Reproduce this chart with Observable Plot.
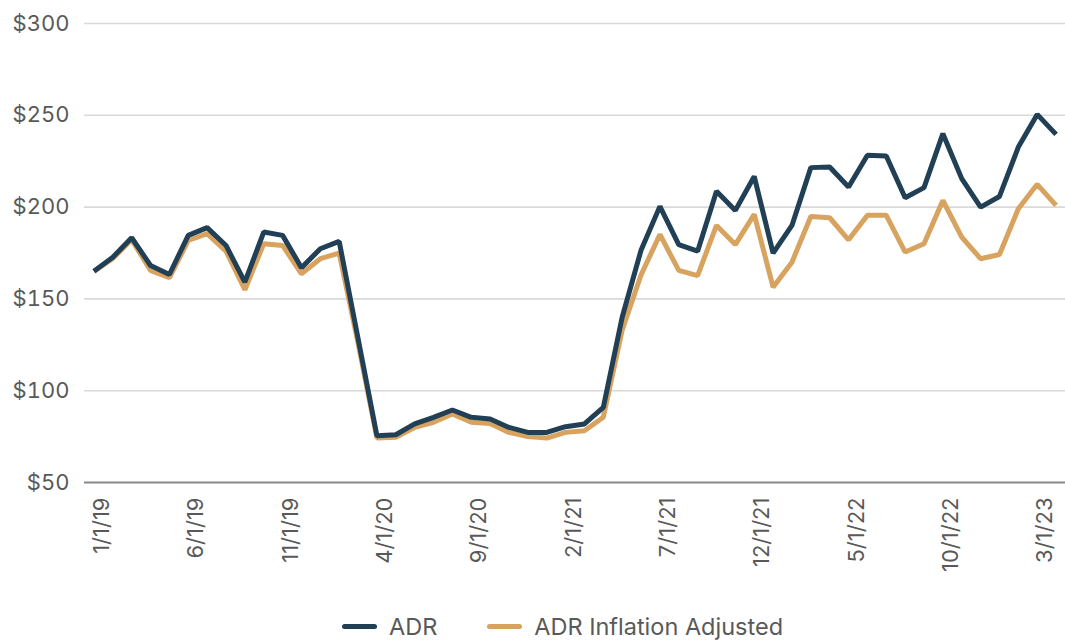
<!DOCTYPE html>
<html>
<head>
<meta charset="utf-8">
<script src="https://cdn.jsdelivr.net/npm/d3@7"></script>
<script src="https://cdn.jsdelivr.net/npm/@observablehq/plot@0.6"></script>
<style>
  html, body { margin: 0; padding: 0; background: #ffffff; }
  body { width: 1065px; height: 641px; overflow: hidden; font-family: Inter, "Noto Sans", sans-serif; }
  #chart svg { display: block; }
  #legend { display: flex; justify-content: center; align-items: center; gap: 50px; margin-top: 12px; font-size: 23.5px; color: #595959; margin-left: 60px; }
  .item { display: flex; align-items: center; gap: 12px; }
  .sw { width: 35px; height: 5px; border-radius: 3px; }
</style>
</head>
<body>
<div id="chart"></div>
<div id="legend"></div>
<script>
const months = [
  "1/1/19","2/1/19","3/1/19","4/1/19","5/1/19","6/1/19","7/1/19","8/1/19","9/1/19","10/1/19","11/1/19","12/1/19",
  "1/1/20","2/1/20","3/1/20","4/1/20","5/1/20","6/1/20","7/1/20","8/1/20","9/1/20","10/1/20","11/1/20","12/1/20",
  "1/1/21","2/1/21","3/1/21","4/1/21","5/1/21","6/1/21","7/1/21","8/1/21","9/1/21","10/1/21","11/1/21","12/1/21",
  "1/1/22","2/1/22","3/1/22","4/1/22","5/1/22","6/1/22","7/1/22","8/1/22","9/1/22","10/1/22","11/1/22","12/1/22",
  "1/1/23","2/1/23","3/1/23","4/1/23"
];
const adr = [
  165.1,172.7,183.3,168.2,163.3,184.6,188.8,179.1,159.1,186.4,184.6,167.0,
  177.3,181.3,128.5,75.5,76.0,81.9,85.5,89.5,85.5,84.6,80.0,77.3,
  77.3,80.4,81.9,90.9,140.0,176.5,200.4,179.6,176.0,208.7,198.2,216.7,
  174.9,190.0,221.5,221.8,210.9,228.2,227.8,205.1,210.6,240.0,215.5,200.0,
  205.8,232.7,250.5,239.6
];
const adrInflationAdjusted = [
  165.0,172.0,182.2,165.5,161.5,181.8,185.5,176.0,155.0,180.0,179.1,163.7,
  171.9,174.9,126.0,74.2,74.6,80.0,82.8,87.3,82.8,82.2,77.3,75.0,
  74.2,77.3,78.2,85.5,133.0,163.0,185.1,165.5,162.7,190.0,179.6,196.0,
  156.4,170.0,194.9,194.2,182.2,195.5,195.5,175.5,180.0,203.6,183.6,171.9,
  174.2,199.1,212.4,200.9
];
const seriesNames = ["ADR", "ADR Inflation Adjusted"];
const seriesColors = ["#213f55", "#d7a35f"];
const yTicks = [50, 100, 150, 200, 250, 300];
const xTickLabels = ["1/1/19","6/1/19","11/1/19","4/1/20","9/1/20","2/1/21","7/1/21","12/1/21","5/1/22","10/1/22","3/1/23"];

const rows = [];
months.forEach((m, i) => {
  rows.push({month: m, value: adr[i], series: seriesNames[0]});
  rows.push({month: m, value: adrInflationAdjusted[i], series: seriesNames[1]});
});

const chart = Plot.plot({
  width: 1065,
  height: 600,
  marginTop: 23,
  marginBottom: 118,
  marginLeft: 84,
  marginRight: 0,
  style: {fontFamily: "Inter, 'Noto Sans', sans-serif", fontSize: "22px", color: "#595959", background: "#ffffff"},
  x: {type: "point", domain: months, padding: 0.5, label: null},
  y: {domain: [50, 300], label: null},
  color: {domain: seriesNames, range: seriesColors},
  marks: [
    Plot.gridY(yTicks, {stroke: "#d9d9d9", strokeOpacity: 1, strokeWidth: 1.6}),
    Plot.axisY(yTicks, {tickSize: 0, tickPadding: 15, tickFormat: d => "$" + d, fill: "#595959", fontSize: 22, label: null}),
    Plot.axisX(xTickLabels, {tickSize: 0, tickPadding: 15, tickRotate: -90, fill: "#595959", fontSize: 22, dx: 8, label: null}),
    Plot.ruleY([50], {stroke: "#8c8c8c", strokeWidth: 2}),
    Plot.lineY(rows.filter(d => d.series === seriesNames[1]), {x: "month", y: "value", stroke: "series", strokeWidth: 5, strokeLinejoin: "miter", strokeLinecap: "butt"}),
    Plot.lineY(rows.filter(d => d.series === seriesNames[0]), {x: "month", y: "value", stroke: "series", strokeWidth: 5, strokeLinejoin: "miter", strokeLinecap: "butt"})
  ]
});
document.getElementById("chart").appendChild(chart);

const legend = document.getElementById("legend");
seriesNames.forEach((name, i) => {
  const item = document.createElement("div");
  item.className = "item";
  const sw = document.createElement("span");
  sw.className = "sw";
  sw.style.background = seriesColors[i];
  const label = document.createElement("span");
  label.textContent = name;
  item.appendChild(sw);
  item.appendChild(label);
  legend.appendChild(item);
});
</script>
</body>
</html>
